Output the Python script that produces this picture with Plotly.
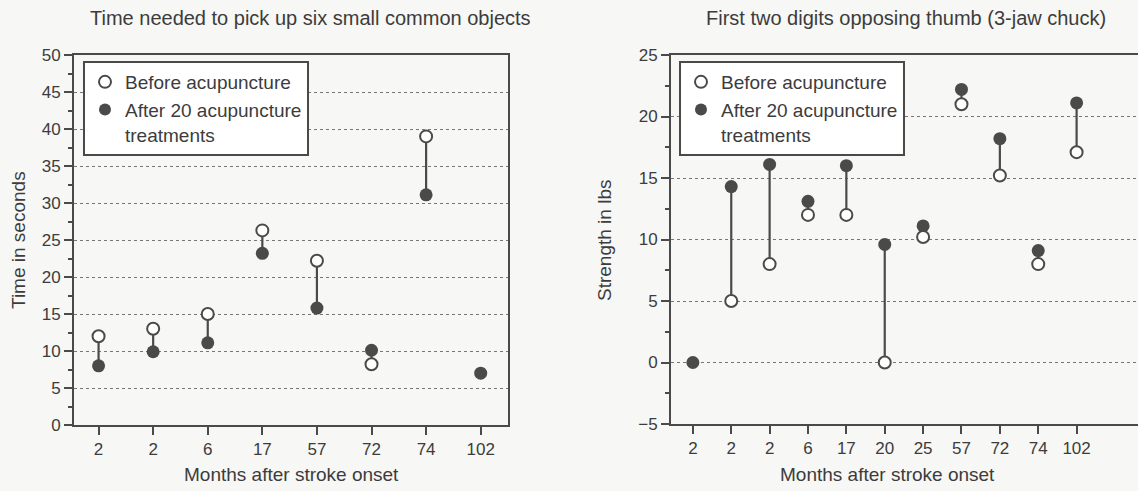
import plotly.graph_objects as go

# ---- data ----
left_months = ["2", "2", "6", "17", "57", "72", "74", "102"]
left_before = [12, 13, 15, 26.3, 22.2, 8.2, 39, None]
left_after = [8, 9.9, 11.1, 23.2, 15.8, 10.1, 31.1, 7]

right_months = ["2", "2", "2", "6", "17", "20", "25", "57", "72", "74", "102"]
right_before = [None, 5, 8, 12, 12, 0, 10.2, 21, 15.2, 8, 17.1]
right_after = [0, 14.3, 16.1, 13.1, 16, 9.6, 11.1, 22.2, 18.2, 9.1, 21.1]

left_title = "Time needed to pick up six small common objects"
right_title = "First two digits opposing thumb (3-jaw chuck)"
x_title = "Months after stroke onset"
left_ytitle = "Time in seconds"
right_ytitle = "Strength in lbs"
before_name = "Before acupuncture"
after_name = "After 20 acupuncture<br>treatments"

# ---- styles ----
FONT = "Liberation Sans, Arial, Helvetica, sans-serif"
INK = "#4a4a4a"
TXT = "#3c3c3c"
BG = "#f7f7f5"
W, H = 1138, 491


def connectors(before, after):
    xs, ys = [], []
    for i, (b, a) in enumerate(zip(before, after)):
        if b is None or a is None:
            continue
        xs += [i, i, None]
        ys += [b, a, None]
    return xs, ys


fig = go.Figure()

panels = [
    (left_months, left_before, left_after, "x", "y", "legend"),
    (right_months, right_before, right_after, "x2", "y2", "legend2"),
]
for months, before, after, xa, ya, lg in panels:
    cx, cy = connectors(before, after)
    fig.add_trace(go.Scatter(x=cx, y=cy, mode="lines", line=dict(color=INK, width=2.2),
                             xaxis=xa, yaxis=ya, showlegend=False, hoverinfo="skip"))
    idx = list(range(len(months)))
    fig.add_trace(go.Scatter(x=idx, y=after, mode="markers", name=after_name,
                             marker=dict(size=13, color=INK, line=dict(width=0)),
                             xaxis=xa, yaxis=ya, legend=lg, legendrank=2))
    fig.add_trace(go.Scatter(x=idx, y=before, mode="markers", name=before_name,
                             marker=dict(size=12, color="white", line=dict(width=2, color=INK)),
                             xaxis=xa, yaxis=ya, legend=lg, legendrank=1))

axis_common = dict(showline=True, linecolor=INK, linewidth=2, ticks="outside",
                   tickcolor=INK, ticklen=8, tickwidth=1.5, automargin=False,
                   tickfont=dict(family=FONT, size=17, color=TXT))

leg_common = dict(xanchor="left", yanchor="top",
                  bgcolor="white", bordercolor=INK, borderwidth=2,
                  font=dict(family=FONT, size=19, color=TXT), itemsizing="constant",
                  valign="top", tracegroupgap=0)

fig.update_layout(
    width=W, height=H, margin=dict(l=0, r=0, t=0, b=0, pad=0), autosize=False,
    paper_bgcolor=BG, plot_bgcolor=BG, showlegend=True,
    font=dict(family=FONT, color=TXT),
    xaxis=dict(domain=[74 / W, 508 / W], range=[-0.45, 7.5],
               tickvals=list(range(len(left_months))), ticktext=left_months,
               mirror=True, showgrid=False, zeroline=False, **axis_common),
    yaxis=dict(domain=[1 - 425 / H, 1 - 55 / H], range=[0, 50], dtick=5,
               mirror=True, showgrid=True, gridcolor="#777", griddash="dot", gridwidth=1,
               zeroline=False,
               minor=dict(dtick=2.5, ticks="outside", ticklen=4, tickcolor=INK, showgrid=False),
               **axis_common),
    xaxis2=dict(domain=[671 / W, 1.0], range=[-0.57, 11.6], anchor="y2",
                tickvals=list(range(len(right_months))), ticktext=right_months,
                mirror=True, showgrid=False, zeroline=False, **axis_common),
    yaxis2=dict(domain=[1 - 424 / H, 1 - 55 / H], range=[-5, 25], dtick=5, anchor="x2",
                showgrid=True, gridcolor="#777", griddash="dot", gridwidth=1,
                zeroline=False,
                minor=dict(dtick=2.5, ticks="outside", ticklen=4, tickcolor=INK, showgrid=False),
                **axis_common),
    legend=dict(x=83 / W, y=1 - 61 / H, **leg_common),
    legend2=dict(x=679 / W, y=1 - 61 / H, **leg_common),
)

ann = dict(showarrow=False, xref="paper", yref="paper", xanchor="center", yanchor="middle",
           font=dict(family=FONT, size=19, color=TXT))
ann_t = dict(ann, font=dict(family=FONT, size=20, color=TXT))
fig.add_annotation(text=left_title, x=310 / W, y=1 - 18 / H, **ann_t)
fig.add_annotation(text=right_title, x=906 / W, y=1 - 18 / H, **ann_t)
fig.add_annotation(text=x_title, x=291 / W, y=1 - 474 / H, **ann)
fig.add_annotation(text=x_title, x=887 / W, y=1 - 474 / H, **ann)
fig.add_annotation(text=left_ytitle, x=18 / W, y=1 - 240 / H, textangle=-90, **ann)
fig.add_annotation(text=right_ytitle, x=604 / W, y=1 - 240 / H, textangle=-90, **ann)

fig.write_html("out.html", config={"displayModeBar": False},
               post_script="document.body.style.margin='0';document.body.style.overflow='hidden';")
